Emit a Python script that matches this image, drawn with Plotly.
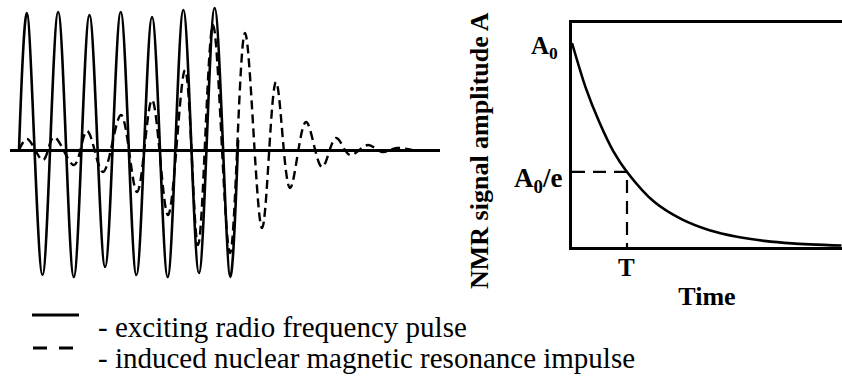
import plotly.graph_objects as go

# ---- Left panel: RF pulse (solid) and induced NMR signal (dashed) ----
# time in units of the RF period, amplitude normalised to RF amplitude
pulse_t = [0, 0.25, 0.75, 1.25, 1.75, 2.25, 2.75, 3.25, 3.75, 4.25, 4.75,
           5.25, 5.75, 6.25, 6.75, 7.0]
pulse_v = [0, 1.054, -0.962, 1.062, -0.977, 1.038, -0.900, 1.062, -0.962,
           1.023, -0.977, 1.077, -0.946, 1.092, -0.977, 0.077]

signal_t = [0, 0.256, 0.767, 1.118, 1.757, 2.173, 2.684, 3.259, 3.770, 4.249,
            4.760, 5.304, 5.719, 6.198, 6.741, 7.220, 7.764, 8.211, 8.658,
            9.169, 9.681, 10.128, 10.575, 11.150, 11.597, 12.077, 12.556]
signal_v = [0, 0.085, -0.077, 0.100, -0.115, 0.146, -0.169, 0.269, -0.323,
            0.385, -0.500, 0.615, -0.731, 0.962, -0.792, 0.900, -0.600, 0.523,
            -0.292, 0.215, -0.131, 0.092, -0.038, 0.038, -0.015, 0.015, 0]

# ---- Right panel: decay of NMR signal amplitude (time in units of T) ----
decay_t = [0, 0.25, 0.5, 0.75, 1.0, 1.5, 2.0, 2.5, 3.0, 3.5, 4.0, 4.9]
decay_a = [1.0, 0.78, 0.61, 0.47, 0.368, 0.22, 0.135, 0.082, 0.05, 0.03,
           0.018, 0.007]
T_value = 1.0
A0_over_e = 0.368

legend_labels = ["- exciting radio frequency pulse",
                 "- induced nuclear magnetic resonance impulse"]

W, H = 842, 378
def px(x):
    return x / W
def py(y):
    return 1 - y / H

fig = go.Figure()

fig.add_trace(go.Scatter(x=pulse_t, y=pulse_v, mode="lines",
                         line=dict(color="black", width=2.6, shape="spline",
                                   smoothing=1.0),
                         xaxis="x", yaxis="y", showlegend=False))
fig.add_trace(go.Scatter(x=signal_t, y=signal_v, mode="lines",
                         line=dict(color="black", width=2.4, shape="spline",
                                   smoothing=1.0, dash="9px,5px"),
                         xaxis="x", yaxis="y", showlegend=False))

fig.add_trace(go.Scatter(x=decay_t, y=decay_a, mode="lines",
                         line=dict(color="black", width=2.6, shape="spline",
                                   smoothing=0.8),
                         xaxis="x2", yaxis="y2", showlegend=False))
fig.add_trace(go.Scatter(x=[0, T_value, T_value], y=[A0_over_e, A0_over_e, 0],
                         mode="lines",
                         line=dict(color="black", width=2.2, dash="13px,8px"),
                         xaxis="x2", yaxis="y2", showlegend=False))

serif_b = dict(family="Liberation Serif", size=25, color="black")
serif = dict(family="Liberation Serif", size=29, color="black")

fig.update_layout(
    width=W, height=H,
    margin=dict(l=0, r=0, t=0, b=0),
    paper_bgcolor="white", plot_bgcolor="white",
    xaxis=dict(domain=[px(10), px(440)], range=[-0.288, 13.45],
               visible=False),
    yaxis=dict(domain=[py(290), py(0)], range=[-1.077, 1.154],
               showgrid=False, showticklabels=False, ticks="",
               zeroline=True, zerolinecolor="black", zerolinewidth=2.5,
               showline=False),
    xaxis2=dict(domain=[px(572), 1.0], range=[0, 4.91], anchor="y2",
                showgrid=False, zeroline=False, showticklabels=False,
                ticks="", showline=True, linecolor="black", linewidth=2.6,
                mirror=True,
                title=dict(text="<b>Time</b>",
                           font=dict(family="Liberation Serif", size=26,
                                     color="black"),
                           standoff=38)),
    yaxis2=dict(domain=[py(247), py(23)], range=[0, 1.098], anchor="x2",
                showgrid=False, zeroline=False, showticklabels=False,
                ticks="", showline=True, linecolor="black", linewidth=2.6,
                mirror=False),
    showlegend=False,
)

# right-panel labels
fig.add_annotation(x=0, y=1.0, xref="x2", yref="y2", text="<b>A<sub>0</sub></b>",
                   showarrow=False, xanchor="right", yanchor="middle",
                   xshift=-12, yshift=-5, font=serif_b)
fig.add_annotation(x=0, y=A0_over_e, xref="x2", yref="y2",
                   text="<b>A<sub>0</sub>/e</b>", showarrow=False,
                   xanchor="right", yanchor="middle", xshift=-8, yshift=-8,
                   font=dict(family="Liberation Serif", size=27, color="black"))
fig.add_annotation(x=T_value, y=0, xref="x2", yref="y2", text="<b>T</b>",
                   showarrow=False, xanchor="center", yanchor="top",
                   yshift=-5, font=serif_b)
fig.add_annotation(x=px(479), y=py(151), xref="paper", yref="paper",
                   text="<b>NMR signal amplitude A</b>", textangle=-90,
                   showarrow=False, xanchor="center", yanchor="middle",
                   font=dict(family="Liberation Serif", size=26, color="black"))

# legend keys and texts
fig.add_shape(type="line", xref="paper", yref="paper",
              x0=px(32), x1=px(79), y0=py(315), y1=py(315),
              line=dict(color="black", width=3))
fig.add_shape(type="line", xref="paper", yref="paper",
              x0=px(33), x1=px(78), y0=py(348), y1=py(348),
              line=dict(color="black", width=3, dash="14px,12px"))
fig.add_annotation(x=px(96), y=py(327), xref="paper", yref="paper",
                   text=legend_labels[0], showarrow=False, xanchor="left",
                   yanchor="middle", font=serif)
fig.add_annotation(x=px(96), y=py(358), xref="paper", yref="paper",
                   text=legend_labels[1], showarrow=False, xanchor="left",
                   yanchor="middle", font=serif)

fig.write_html("out.html",
               config={"displayModeBar": False},
               post_script="document.body.style.margin='0px';"
                           "document.body.style.overflow='hidden';")
